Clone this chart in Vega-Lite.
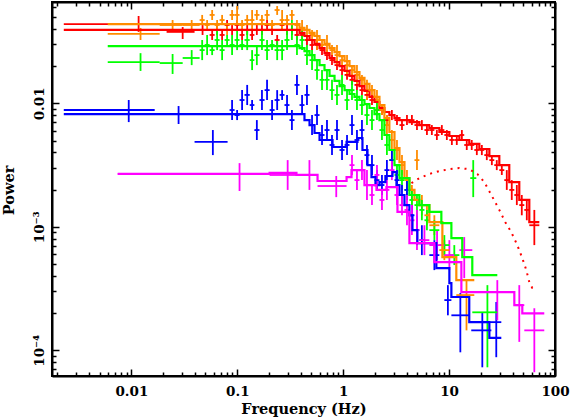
{
"$schema":"https://vega.github.io/schema/vega-lite/v6.json",
"width":503,"height":374,
"autosize":{"type":"none"},
"padding":{"left":52,"top":2,"right":15,"bottom":43},
"background":"white",
"config":{"view":{"stroke":"black","strokeWidth":2},
"axis":{"domainColor":"black","domainWidth":2,"tickColor":"black","tickWidth":1.5,"grid":false,"labelFont":"DejaVu Serif","labelFontWeight":"bold","labelFontSize":13.5,"labelColor":"black","titleFont":"DejaVu Serif","titleFontWeight":"bold","titleFontSize":14.5,"titleColor":"black","labelOverlap":false,"labelFlush":false}},
"datasets":{
"pts":[
{"s":"r","f":0.0117,"f0":0.0023,"f1":0.0215,"p":0.0439,"p0":0.0379,"p1":0.051},
{"s":"r","f":0.0305,"f0":0.0215,"f1":0.0395,"p":0.0379,"p0":0.0332,"p1":0.0415},
{"s":"r","f":0.047,"f0":0.0395,"f1":0.0548,"p":0.0393,"p0":0.0358,"p1":0.0431},
{"s":"r","f":0.0579,"f0":0.0548,"f1":0.0611,"p":0.0358,"p0":0.0326,"p1":0.0393},
{"s":"r","f":0.0645,"f0":0.0611,"f1":0.0681,"p":0.0393,"p0":0.0358,"p1":0.0431},
{"s":"r","f":0.0719,"f0":0.0681,"f1":0.0759,"p":0.0358,"p0":0.0326,"p1":0.0393},
{"s":"r","f":0.0801,"f0":0.0759,"f1":0.0846,"p":0.0431,"p0":0.0393,"p1":0.0473},
{"s":"r","f":0.0893,"f0":0.0846,"f1":0.0943,"p":0.0393,"p0":0.0358,"p1":0.0431},
{"s":"r","f":0.0996,"f0":0.0943,"f1":0.105,"p":0.0431,"p0":0.0393,"p1":0.0473},
{"s":"r","f":0.111,"f0":0.105,"f1":0.117,"p":0.0358,"p0":0.0326,"p1":0.0393},
{"s":"r","f":0.124,"f0":0.117,"f1":0.131,"p":0.0393,"p0":0.0358,"p1":0.0431},
{"s":"r","f":0.138,"f0":0.131,"f1":0.145,"p":0.0358,"p0":0.0326,"p1":0.0393},
{"s":"r","f":0.153,"f0":0.145,"f1":0.162,"p":0.0393,"p0":0.0358,"p1":0.0431},
{"s":"r","f":0.171,"f0":0.162,"f1":0.181,"p":0.0393,"p0":0.0358,"p1":0.0431},
{"s":"r","f":0.191,"f0":0.181,"f1":0.202,"p":0.0431,"p0":0.0393,"p1":0.0473},
{"s":"r","f":0.213,"f0":0.202,"f1":0.225,"p":0.0393,"p0":0.0358,"p1":0.0431},
{"s":"r","f":0.238,"f0":0.225,"f1":0.251,"p":0.0326,"p0":0.0297,"p1":0.0358},
{"s":"r","f":0.265,"f0":0.251,"f1":0.279,"p":0.0431,"p0":0.0393,"p1":0.0473},
{"s":"r","f":0.295,"f0":0.279,"f1":0.311,"p":0.0393,"p0":0.0358,"p1":0.0431},
{"s":"r","f":0.328,"f0":0.311,"f1":0.347,"p":0.0393,"p0":0.0358,"p1":0.0431},
{"s":"r","f":0.366,"f0":0.347,"f1":0.387,"p":0.0358,"p0":0.0326,"p1":0.0393},
{"s":"r","f":0.409,"f0":0.387,"f1":0.431,"p":0.0358,"p0":0.0326,"p1":0.0393},
{"s":"r","f":0.455,"f0":0.431,"f1":0.481,"p":0.0326,"p0":0.0297,"p1":0.0358},
{"s":"r","f":0.508,"f0":0.481,"f1":0.536,"p":0.0297,"p0":0.027,"p1":0.0326},
{"s":"r","f":0.566,"f0":0.536,"f1":0.598,"p":0.0297,"p0":0.027,"p1":0.0326},
{"s":"r","f":0.631,"f0":0.598,"f1":0.666,"p":0.027,"p0":0.0246,"p1":0.0297},
{"s":"r","f":0.703,"f0":0.666,"f1":0.743,"p":0.0246,"p0":0.0224,"p1":0.027},
{"s":"r","f":0.784,"f0":0.743,"f1":0.828,"p":0.0224,"p0":0.0204,"p1":0.0246},
{"s":"r","f":0.874,"f0":0.828,"f1":0.923,"p":0.0204,"p0":0.0186,"p1":0.0224},
{"s":"r","f":0.975,"f0":0.923,"f1":1.03,"p":0.0186,"p0":0.017,"p1":0.0204},
{"s":"r","f":1.087,"f0":1.03,"f1":1.147,"p":0.017,"p0":0.0155,"p1":0.0186},
{"s":"r","f":1.211,"f0":1.147,"f1":1.278,"p":0.0155,"p0":0.0141,"p1":0.017},
{"s":"r","f":1.349,"f0":1.278,"f1":1.425,"p":0.0141,"p0":0.0128,"p1":0.0155},
{"s":"r","f":1.504,"f0":1.425,"f1":1.588,"p":0.0128,"p0":0.0117,"p1":0.0141},
{"s":"r","f":1.677,"f0":1.588,"f1":1.771,"p":0.0117,"p0":0.01064,"p1":0.0128},
{"s":"r","f":1.87,"f0":1.771,"f1":1.974,"p":0.01064,"p0":0.00969,"p1":0.0117},
{"s":"r","f":2.084,"f0":1.974,"f1":2.2,"p":0.00883,"p0":0.00804,"p1":0.00969},
{"s":"r","f":2.323,"f0":2.2,"f1":2.45,"p":0.00883,"p0":0.00804,"p1":0.00969},
{"s":"r","f":2.587,"f0":2.45,"f1":2.73,"p":0.00732,"p0":0.00667,"p1":0.00804},
{"s":"r","f":2.882,"f0":2.73,"f1":3.05,"p":0.00804,"p0":0.00732,"p1":0.00883},
{"s":"r","f":3.22,"f0":3.05,"f1":3.4,"p":0.00732,"p0":0.00667,"p1":0.00804},
{"s":"r","f":3.59,"f0":3.4,"f1":3.79,"p":0.00667,"p0":0.00608,"p1":0.00732},
{"s":"r","f":4.001,"f0":3.79,"f1":4.22,"p":0.00732,"p0":0.00667,"p1":0.00804},
{"s":"r","f":4.455,"f0":4.22,"f1":4.71,"p":0.00732,"p0":0.00667,"p1":0.00804},
{"s":"r","f":4.973,"f0":4.71,"f1":5.24,"p":0.00667,"p0":0.00608,"p1":0.00732},
{"s":"r","f":5.532,"f0":5.24,"f1":5.85,"p":0.00667,"p0":0.00608,"p1":0.00732},
{"s":"r","f":6.176,"f0":5.85,"f1":6.51,"p":0.00608,"p0":0.00554,"p1":0.00667},
{"s":"r","f":6.873,"f0":6.51,"f1":7.26,"p":0.00608,"p0":0.00554,"p1":0.00667},
{"s":"r","f":7.665,"f0":7.26,"f1":8.09,"p":0.00554,"p0":0.00505,"p1":0.00608},
{"s":"r","f":8.541,"f0":8.09,"f1":9.02,"p":0.00608,"p0":0.00554,"p1":0.00667},
{"s":"r","f":9.523,"f0":9.02,"f1":10.06,"p":0.00554,"p0":0.00505,"p1":0.00608},
{"s":"r","f":10.62,"f0":10.06,"f1":11.2,"p":0.00505,"p0":0.0046,"p1":0.00554},
{"s":"r","f":11.82,"f0":11.2,"f1":12.5,"p":0.00505,"p0":0.0046,"p1":0.00554},
{"s":"r","f":13.2,"f0":12.5,"f1":13.9,"p":0.00554,"p0":0.00505,"p1":0.00608},
{"s":"r","f":14.68,"f0":13.9,"f1":15.5,"p":0.0046,"p0":0.00419,"p1":0.00505},
{"s":"r","f":16.36,"f0":15.5,"f1":17.3,"p":0.0046,"p0":0.00419,"p1":0.00505},
{"s":"r","f":18.27,"f0":17.3,"f1":19.3,"p":0.00419,"p0":0.00381,"p1":0.0046},
{"s":"r","f":20.38,"f0":19.3,"f1":21.5,"p":0.00419,"p0":0.00381,"p1":0.0046},
{"s":"r","f":22.7,"f0":21.5,"f1":24.0,"p":0.00381,"p0":0.00347,"p1":0.00419},
{"s":"r","f":25.34,"f0":24.0,"f1":26.7,"p":0.00347,"p0":0.00316,"p1":0.00381},
{"s":"r","f":28.19,"f0":26.7,"f1":29.8,"p":0.00316,"p0":0.00288,"p1":0.00347},
{"s":"r","f":31.46,"f0":29.8,"f1":33.2,"p":0.00288,"p0":0.00263,"p1":0.00316},
{"s":"r","f":35.05,"f0":33.2,"f1":37.0,"p":0.00239,"p0":0.00199,"p1":0.00288},
{"s":"r","f":39.06,"f0":37.0,"f1":41.3,"p":0.00199,"p0":0.00165,"p1":0.00239},
{"s":"r","f":43.6,"f0":41.3,"f1":46.0,"p":0.00181,"p0":0.0015,"p1":0.00218},
{"s":"r","f":48.57,"f0":46.0,"f1":51.3,"p":0.0015,"p0":0.00124,"p1":0.00181},
{"s":"r","f":54.16,"f0":51.3,"f1":57.2,"p":0.00137,"p0":0.00113,"p1":0.00165},
{"s":"r","f":63.8,"f0":57.2,"f1":71.1,"p":0.00103,"p0":0.000711,"p1":0.00137},
{"s":"o","f":0.0122,"f0":0.00598,"f1":0.0185,"p":0.0365,"p0":0.0326,"p1":0.0408},
{"s":"o","f":0.0245,"f0":0.0185,"f1":0.0305,"p":0.0431,"p0":0.0393,"p1":0.0473},
{"s":"o","f":0.0371,"f0":0.0305,"f1":0.0441,"p":0.0431,"p0":0.0393,"p1":0.0473},
{"s":"o","f":0.0466,"f0":0.0441,"f1":0.0492,"p":0.0473,"p0":0.0431,"p1":0.052},
{"s":"o","f":0.0519,"f0":0.0492,"f1":0.0548,"p":0.0431,"p0":0.0393,"p1":0.0473},
{"s":"o","f":0.0579,"f0":0.0548,"f1":0.0611,"p":0.052,"p0":0.0473,"p1":0.057},
{"s":"o","f":0.0645,"f0":0.0611,"f1":0.0681,"p":0.0431,"p0":0.0393,"p1":0.0473},
{"s":"o","f":0.0719,"f0":0.0681,"f1":0.0759,"p":0.0473,"p0":0.0431,"p1":0.052},
{"s":"o","f":0.0801,"f0":0.0759,"f1":0.0846,"p":0.0393,"p0":0.0358,"p1":0.0431},
{"s":"o","f":0.0893,"f0":0.0846,"f1":0.0943,"p":0.052,"p0":0.0473,"p1":0.057},
{"s":"o","f":0.0996,"f0":0.0943,"f1":0.105,"p":0.052,"p0":0.0431,"p1":0.0614},
{"s":"o","f":0.111,"f0":0.105,"f1":0.117,"p":0.0431,"p0":0.0393,"p1":0.0473},
{"s":"o","f":0.124,"f0":0.117,"f1":0.131,"p":0.0473,"p0":0.0431,"p1":0.052},
{"s":"o","f":0.138,"f0":0.131,"f1":0.145,"p":0.0473,"p0":0.0393,"p1":0.057},
{"s":"o","f":0.153,"f0":0.145,"f1":0.162,"p":0.052,"p0":0.0473,"p1":0.057},
{"s":"o","f":0.171,"f0":0.162,"f1":0.181,"p":0.0473,"p0":0.0431,"p1":0.052},
{"s":"o","f":0.191,"f0":0.181,"f1":0.202,"p":0.052,"p0":0.0473,"p1":0.057},
{"s":"o","f":0.213,"f0":0.202,"f1":0.225,"p":0.0431,"p0":0.0393,"p1":0.0473},
{"s":"o","f":0.238,"f0":0.225,"f1":0.251,"p":0.057,"p0":0.052,"p1":0.0614},
{"s":"o","f":0.265,"f0":0.251,"f1":0.279,"p":0.0473,"p0":0.0393,"p1":0.057},
{"s":"o","f":0.295,"f0":0.279,"f1":0.311,"p":0.0473,"p0":0.0431,"p1":0.052},
{"s":"o","f":0.328,"f0":0.311,"f1":0.347,"p":0.052,"p0":0.0473,"p1":0.057},
{"s":"o","f":0.366,"f0":0.347,"f1":0.387,"p":0.0431,"p0":0.0393,"p1":0.0473},
{"s":"o","f":0.409,"f0":0.387,"f1":0.431,"p":0.0393,"p0":0.0326,"p1":0.0473},
{"s":"o","f":0.455,"f0":0.431,"f1":0.481,"p":0.0393,"p0":0.0358,"p1":0.0431},
{"s":"o","f":0.508,"f0":0.481,"f1":0.536,"p":0.0358,"p0":0.0326,"p1":0.0393},
{"s":"o","f":0.566,"f0":0.536,"f1":0.598,"p":0.0326,"p0":0.027,"p1":0.0393},
{"s":"o","f":0.631,"f0":0.598,"f1":0.666,"p":0.0297,"p0":0.027,"p1":0.0326},
{"s":"o","f":0.703,"f0":0.666,"f1":0.743,"p":0.0297,"p0":0.0246,"p1":0.0358},
{"s":"o","f":0.784,"f0":0.743,"f1":0.828,"p":0.027,"p0":0.0246,"p1":0.0297},
{"s":"o","f":0.874,"f0":0.828,"f1":0.923,"p":0.0246,"p0":0.0204,"p1":0.0297},
{"s":"o","f":0.975,"f0":0.923,"f1":1.03,"p":0.0224,"p0":0.0204,"p1":0.0246},
{"s":"o","f":1.087,"f0":1.03,"f1":1.147,"p":0.0204,"p0":0.017,"p1":0.0246},
{"s":"o","f":1.211,"f0":1.147,"f1":1.278,"p":0.0186,"p0":0.017,"p1":0.0204},
{"s":"o","f":1.349,"f0":1.278,"f1":1.425,"p":0.017,"p0":0.0141,"p1":0.0204},
{"s":"o","f":1.504,"f0":1.425,"f1":1.588,"p":0.0155,"p0":0.0141,"p1":0.017},
{"s":"o","f":1.677,"f0":1.588,"f1":1.771,"p":0.0128,"p0":0.01064,"p1":0.0155},
{"s":"o","f":1.87,"f0":1.771,"f1":1.974,"p":0.0128,"p0":0.0117,"p1":0.0141},
{"s":"o","f":2.084,"f0":1.974,"f1":2.2,"p":0.01064,"p0":0.00883,"p1":0.0128},
{"s":"o","f":2.323,"f0":2.2,"f1":2.45,"p":0.00883,"p0":0.00804,"p1":0.00969},
{"s":"o","f":2.587,"f0":2.45,"f1":2.73,"p":0.00667,"p0":0.00554,"p1":0.00804},
{"s":"o","f":2.882,"f0":2.73,"f1":3.05,"p":0.00505,"p0":0.00419,"p1":0.00608},
{"s":"o","f":3.22,"f0":3.05,"f1":3.4,"p":0.00419,"p0":0.00347,"p1":0.00505},
{"s":"o","f":3.59,"f0":3.4,"f1":3.79,"p":0.00316,"p0":0.00263,"p1":0.00381},
{"s":"o","f":4.001,"f0":3.79,"f1":4.22,"p":0.00239,"p0":0.00199,"p1":0.00288},
{"s":"o","f":4.455,"f0":4.22,"f1":4.71,"p":0.00181,"p0":0.0015,"p1":0.00218},
{"s":"o","f":4.973,"f0":4.71,"f1":5.24,"p":0.00347,"p0":0.00288,"p1":0.00419},
{"s":"o","f":5.532,"f0":5.24,"f1":5.85,"p":0.0015,"p0":0.00124,"p1":0.00181},
{"s":"o","f":6.176,"f0":5.85,"f1":6.51,"p":0.00124,"p0":0.00103,"p1":0.0015},
{"s":"o","f":7.26,"f0":6.51,"f1":8.09,"p":0.00103,"p0":0.000857,"p1":0.00124},
{"s":"o","f":9.02,"f0":8.09,"f1":10.06,"p":0.000648,"p0":0.000537,"p1":0.00078},
{"s":"o","f":14.6,"f0":11.7,"f1":17.3,"p":0.00028,"p0":0.000145,"p1":0.00037},
{"s":"g","f":0.0122,"f0":0.00598,"f1":0.0185,"p":0.0216,"p0":0.0183,"p1":0.0255},
{"s":"g","f":0.0245,"f0":0.0185,"f1":0.0305,"p":0.0212,"p0":0.0173,"p1":0.0251},
{"s":"g","f":0.0371,"f0":0.0305,"f1":0.0441,"p":0.0233,"p0":0.0204,"p1":0.027},
{"s":"g","f":0.0466,"f0":0.0441,"f1":0.0492,"p":0.027,"p0":0.0224,"p1":0.0326},
{"s":"g","f":0.0519,"f0":0.0492,"f1":0.0548,"p":0.0297,"p0":0.0246,"p1":0.0358},
{"s":"g","f":0.0579,"f0":0.0548,"f1":0.0611,"p":0.027,"p0":0.0246,"p1":0.0297},
{"s":"g","f":0.0645,"f0":0.0611,"f1":0.0681,"p":0.0326,"p0":0.027,"p1":0.0393},
{"s":"g","f":0.0719,"f0":0.0681,"f1":0.0759,"p":0.027,"p0":0.0224,"p1":0.0326},
{"s":"g","f":0.0801,"f0":0.0759,"f1":0.0846,"p":0.0326,"p0":0.0297,"p1":0.0358},
{"s":"g","f":0.0893,"f0":0.0846,"f1":0.0943,"p":0.0297,"p0":0.0246,"p1":0.0358},
{"s":"g","f":0.0996,"f0":0.0943,"f1":0.105,"p":0.0326,"p0":0.027,"p1":0.0393},
{"s":"g","f":0.111,"f0":0.105,"f1":0.117,"p":0.0297,"p0":0.027,"p1":0.0326},
{"s":"g","f":0.124,"f0":0.117,"f1":0.131,"p":0.0326,"p0":0.027,"p1":0.0393},
{"s":"g","f":0.138,"f0":0.131,"f1":0.145,"p":0.0224,"p0":0.0186,"p1":0.027},
{"s":"g","f":0.153,"f0":0.145,"f1":0.162,"p":0.0246,"p0":0.0204,"p1":0.0297},
{"s":"g","f":0.171,"f0":0.162,"f1":0.181,"p":0.0326,"p0":0.027,"p1":0.0393},
{"s":"g","f":0.191,"f0":0.181,"f1":0.202,"p":0.027,"p0":0.0224,"p1":0.0326},
{"s":"g","f":0.213,"f0":0.202,"f1":0.225,"p":0.0297,"p0":0.027,"p1":0.0326},
{"s":"g","f":0.238,"f0":0.225,"f1":0.251,"p":0.027,"p0":0.0224,"p1":0.0326},
{"s":"g","f":0.265,"f0":0.251,"f1":0.279,"p":0.027,"p0":0.0224,"p1":0.0326},
{"s":"g","f":0.295,"f0":0.279,"f1":0.311,"p":0.0326,"p0":0.027,"p1":0.0393},
{"s":"g","f":0.328,"f0":0.311,"f1":0.347,"p":0.0393,"p0":0.0326,"p1":0.0473},
{"s":"g","f":0.366,"f0":0.347,"f1":0.387,"p":0.0297,"p0":0.0246,"p1":0.0358},
{"s":"g","f":0.409,"f0":0.387,"f1":0.431,"p":0.0326,"p0":0.027,"p1":0.0393},
{"s":"g","f":0.455,"f0":0.431,"f1":0.481,"p":0.0246,"p0":0.0204,"p1":0.0297},
{"s":"g","f":0.508,"f0":0.481,"f1":0.536,"p":0.0224,"p0":0.0186,"p1":0.027},
{"s":"g","f":0.566,"f0":0.536,"f1":0.598,"p":0.0186,"p0":0.0155,"p1":0.0224},
{"s":"g","f":0.631,"f0":0.598,"f1":0.666,"p":0.0155,"p0":0.0128,"p1":0.0186},
{"s":"g","f":0.703,"f0":0.666,"f1":0.743,"p":0.0155,"p0":0.0128,"p1":0.0186},
{"s":"g","f":0.784,"f0":0.743,"f1":0.828,"p":0.0128,"p0":0.01064,"p1":0.0155},
{"s":"g","f":0.874,"f0":0.828,"f1":0.923,"p":0.0117,"p0":0.00969,"p1":0.0141},
{"s":"g","f":0.975,"f0":0.923,"f1":1.03,"p":0.0141,"p0":0.0117,"p1":0.017},
{"s":"g","f":1.087,"f0":1.03,"f1":1.147,"p":0.01064,"p0":0.00883,"p1":0.0128},
{"s":"g","f":1.211,"f0":1.147,"f1":1.278,"p":0.0128,"p0":0.01064,"p1":0.0155},
{"s":"g","f":1.349,"f0":1.278,"f1":1.425,"p":0.01064,"p0":0.00883,"p1":0.0128},
{"s":"g","f":1.504,"f0":1.425,"f1":1.588,"p":0.00969,"p0":0.00804,"p1":0.0117},
{"s":"g","f":1.677,"f0":1.588,"f1":1.771,"p":0.00804,"p0":0.00667,"p1":0.00969},
{"s":"g","f":1.87,"f0":1.771,"f1":1.974,"p":0.00732,"p0":0.00608,"p1":0.00883},
{"s":"g","f":2.084,"f0":1.974,"f1":2.2,"p":0.00883,"p0":0.00732,"p1":0.01064},
{"s":"g","f":2.323,"f0":2.2,"f1":2.45,"p":0.00608,"p0":0.00505,"p1":0.00732},
{"s":"g","f":2.587,"f0":2.45,"f1":2.73,"p":0.0046,"p0":0.00381,"p1":0.00554},
{"s":"g","f":2.882,"f0":2.73,"f1":3.05,"p":0.00347,"p0":0.00288,"p1":0.00419},
{"s":"g","f":3.22,"f0":3.05,"f1":3.4,"p":0.00263,"p0":0.00218,"p1":0.00316},
{"s":"g","f":3.59,"f0":3.4,"f1":3.79,"p":0.00239,"p0":0.00199,"p1":0.00288},
{"s":"g","f":4.001,"f0":3.79,"f1":4.22,"p":0.00199,"p0":0.00165,"p1":0.00239},
{"s":"g","f":4.455,"f0":4.22,"f1":4.71,"p":0.00165,"p0":0.00137,"p1":0.00199},
{"s":"g","f":4.973,"f0":4.71,"f1":5.24,"p":0.0015,"p0":0.00124,"p1":0.00181},
{"s":"g","f":5.532,"f0":5.24,"f1":5.85,"p":0.00137,"p0":0.00113,"p1":0.00165},
{"s":"g","f":6.176,"f0":5.85,"f1":6.51,"p":0.00113,"p0":0.00094,"p1":0.00137},
{"s":"g","f":7.26,"f0":6.51,"f1":8.09,"p":0.00094,"p0":0.00078,"p1":0.00113},
{"s":"g","f":9.02,"f0":8.09,"f1":10.06,"p":0.000711,"p0":0.00059,"p1":0.000857},
{"s":"g","f":11.2,"f0":10.06,"f1":12.5,"p":0.00059,"p0":0.00049,"p1":0.000711},
{"s":"g","f":16.9,"f0":15.84,"f1":18.07,"p":0.00248,"p0":0.00174,"p1":0.00347},
{"s":"g","f":23.0,"f0":16.56,"f1":28.53,"p":0.000203,"p0":0.0000728,"p1":0.000337},
{"s":"b","f":0.00944,"f0":0.0023,"f1":0.0166,"p":0.00883,"p0":0.00705,"p1":0.01064},
{"s":"b","f":0.0279,"f0":0.0215,"f1":0.0395,"p":0.00819,"p0":0.0068,"p1":0.00951},
{"s":"b","f":0.0588,"f0":0.0395,"f1":0.081,"p":0.00487,"p0":0.00381,"p1":0.00608},
{"s":"b","f":0.0893,"f0":0.0846,"f1":0.0943,"p":0.00883,"p0":0.00732,"p1":0.01064},
{"s":"b","f":0.0996,"f0":0.0943,"f1":0.105,"p":0.00804,"p0":0.00732,"p1":0.00883},
{"s":"b","f":0.111,"f0":0.105,"f1":0.117,"p":0.01064,"p0":0.00883,"p1":0.0128},
{"s":"b","f":0.124,"f0":0.117,"f1":0.131,"p":0.0117,"p0":0.00969,"p1":0.0141},
{"s":"b","f":0.138,"f0":0.131,"f1":0.145,"p":0.00969,"p0":0.00883,"p1":0.01064},
{"s":"b","f":0.153,"f0":0.145,"f1":0.162,"p":0.00608,"p0":0.00505,"p1":0.00732},
{"s":"b","f":0.171,"f0":0.162,"f1":0.181,"p":0.01064,"p0":0.00883,"p1":0.0128},
{"s":"b","f":0.191,"f0":0.181,"f1":0.202,"p":0.0128,"p0":0.01064,"p1":0.0155},
{"s":"b","f":0.213,"f0":0.202,"f1":0.225,"p":0.00883,"p0":0.00732,"p1":0.01064},
{"s":"b","f":0.238,"f0":0.225,"f1":0.251,"p":0.01064,"p0":0.00883,"p1":0.0128},
{"s":"b","f":0.265,"f0":0.251,"f1":0.279,"p":0.0117,"p0":0.01064,"p1":0.0128},
{"s":"b","f":0.295,"f0":0.279,"f1":0.311,"p":0.00969,"p0":0.00804,"p1":0.0117},
{"s":"b","f":0.328,"f0":0.311,"f1":0.347,"p":0.00732,"p0":0.00608,"p1":0.00883},
{"s":"b","f":0.366,"f0":0.347,"f1":0.387,"p":0.0141,"p0":0.0117,"p1":0.017},
{"s":"b","f":0.409,"f0":0.387,"f1":0.431,"p":0.00969,"p0":0.00804,"p1":0.0117},
{"s":"b","f":0.455,"f0":0.431,"f1":0.481,"p":0.0117,"p0":0.00969,"p1":0.0141},
{"s":"b","f":0.508,"f0":0.481,"f1":0.536,"p":0.00667,"p0":0.00554,"p1":0.00804},
{"s":"b","f":0.566,"f0":0.536,"f1":0.598,"p":0.00804,"p0":0.00667,"p1":0.00969},
{"s":"b","f":0.631,"f0":0.598,"f1":0.666,"p":0.00554,"p0":0.0046,"p1":0.00667},
{"s":"b","f":0.703,"f0":0.666,"f1":0.743,"p":0.00608,"p0":0.00505,"p1":0.00732},
{"s":"b","f":0.784,"f0":0.743,"f1":0.828,"p":0.0046,"p0":0.00381,"p1":0.00554},
{"s":"b","f":0.874,"f0":0.828,"f1":0.923,"p":0.00608,"p0":0.00505,"p1":0.00732},
{"s":"b","f":0.975,"f0":0.923,"f1":1.03,"p":0.00419,"p0":0.00347,"p1":0.00505},
{"s":"b","f":1.087,"f0":1.03,"f1":1.147,"p":0.0046,"p0":0.00381,"p1":0.00554},
{"s":"b","f":1.211,"f0":1.147,"f1":1.278,"p":0.00667,"p0":0.00554,"p1":0.00804},
{"s":"b","f":1.349,"f0":1.278,"f1":1.425,"p":0.00505,"p0":0.00419,"p1":0.00608},
{"s":"b","f":1.504,"f0":1.425,"f1":1.588,"p":0.00608,"p0":0.00505,"p1":0.00732},
{"s":"b","f":1.677,"f0":1.588,"f1":1.771,"p":0.00381,"p0":0.00316,"p1":0.0046},
{"s":"b","f":1.87,"f0":1.771,"f1":1.974,"p":0.00316,"p0":0.00263,"p1":0.00381},
{"s":"b","f":2.084,"f0":1.974,"f1":2.2,"p":0.00239,"p0":0.00199,"p1":0.00288},
{"s":"b","f":2.323,"f0":2.2,"f1":2.45,"p":0.00218,"p0":0.00181,"p1":0.00263},
{"s":"b","f":2.587,"f0":2.45,"f1":2.73,"p":0.00288,"p0":0.00239,"p1":0.00347},
{"s":"b","f":2.882,"f0":2.73,"f1":3.05,"p":0.00347,"p0":0.00288,"p1":0.00419},
{"s":"b","f":3.22,"f0":3.05,"f1":3.4,"p":0.00239,"p0":0.00199,"p1":0.00288},
{"s":"b","f":3.59,"f0":3.4,"f1":3.79,"p":0.00181,"p0":0.0015,"p1":0.00218},
{"s":"b","f":4.001,"f0":3.79,"f1":4.22,"p":0.00199,"p0":0.00165,"p1":0.00239},
{"s":"b","f":4.455,"f0":4.22,"f1":4.71,"p":0.00124,"p0":0.00103,"p1":0.0015},
{"s":"b","f":4.973,"f0":4.71,"f1":5.24,"p":0.00094,"p0":0.00071,"p1":0.00124},
{"s":"b","f":5.532,"f0":5.24,"f1":5.85,"p":0.00078,"p0":0.00059,"p1":0.00103},
{"s":"b","f":7.26,"f0":6.51,"f1":8.09,"p":0.00059,"p0":0.000446,"p1":0.00078},
{"s":"b","f":9.74,"f0":9.02,"f1":10.51,"p":0.000255,"p0":0.000192,"p1":0.000337},
{"s":"b","f":12.77,"f0":10.51,"f1":15.5,"p":0.000192,"p0":0.0000963,"p1":0.000291},
{"s":"b","f":20.59,"f0":16.19,"f1":25.07,"p":0.000145,"p0":0.0000728,"p1":0.000203},
{"s":"b","f":27.89,"f0":20.59,"f1":31.12,"p":0.000169,"p0":0.0000879,"p1":0.000246},
{"s":"m","f":0.105,"f0":0.00743,"f1":0.202,"p":0.00268,"p0":0.00195,"p1":0.00328},
{"s":"m","f":0.299,"f0":0.202,"f1":0.387,"p":0.00263,"p0":0.00199,"p1":0.00347},
{"s":"m","f":0.48,"f0":0.387,"f1":0.5726,"p":0.00263,"p0":0.00199,"p1":0.00347},
{"s":"m","f":0.86,"f0":0.5726,"f1":1.076,"p":0.00214,"p0":0.00174,"p1":0.00258},
{"s":"m","f":1.211,"f0":1.147,"f1":1.278,"p":0.00316,"p0":0.00263,"p1":0.00381},
{"s":"m","f":1.349,"f0":1.278,"f1":1.425,"p":0.00239,"p0":0.00199,"p1":0.00288},
{"s":"m","f":1.504,"f0":1.425,"f1":1.588,"p":0.00288,"p0":0.00239,"p1":0.00347},
{"s":"m","f":1.677,"f0":1.588,"f1":1.771,"p":0.00218,"p0":0.00165,"p1":0.00288},
{"s":"m","f":1.87,"f0":1.771,"f1":1.974,"p":0.00181,"p0":0.0015,"p1":0.00218},
{"s":"m","f":2.084,"f0":1.974,"f1":2.2,"p":0.00263,"p0":0.00218,"p1":0.00316},
{"s":"m","f":2.323,"f0":2.2,"f1":2.45,"p":0.00165,"p0":0.00137,"p1":0.00199},
{"s":"m","f":2.587,"f0":2.45,"f1":2.73,"p":0.00199,"p0":0.00165,"p1":0.00239},
{"s":"m","f":2.882,"f0":2.73,"f1":3.05,"p":0.00288,"p0":0.00239,"p1":0.00347},
{"s":"m","f":3.22,"f0":3.05,"f1":3.4,"p":0.00181,"p0":0.0015,"p1":0.00218},
{"s":"m","f":3.59,"f0":3.4,"f1":3.79,"p":0.0015,"p0":0.00124,"p1":0.00181},
{"s":"m","f":4.001,"f0":3.79,"f1":4.22,"p":0.00137,"p0":0.00103,"p1":0.00181},
{"s":"m","f":4.455,"f0":4.22,"f1":4.71,"p":0.00113,"p0":0.000857,"p1":0.0015},
{"s":"m","f":4.973,"f0":4.71,"f1":5.24,"p":0.00094,"p0":0.00065,"p1":0.00137},
{"s":"m","f":5.85,"f0":5.24,"f1":6.51,"p":0.00078,"p0":0.00059,"p1":0.00103},
{"s":"m","f":7.7,"f0":6.51,"f1":9.02,"p":0.000711,"p0":0.000537,"p1":0.00094},
{"s":"m","f":10.06,"f0":9.02,"f1":11.2,"p":0.00059,"p0":0.000446,"p1":0.00078},
{"s":"m","f":13.9,"f0":12.5,"f1":16.56,"p":0.000648,"p0":0.000384,"p1":0.000826},
{"s":"m","f":28.53,"f0":16.56,"f1":41.3,"p":0.000296,"p0":0.000175,"p1":0.00037},
{"s":"m","f":46.0,"f0":41.3,"f1":51.3,"p":0.000232,"p0":0.000117,"p1":0.000337},
{"s":"m","f":63.8,"f0":51.3,"f1":79.2,"p":0.000145,"p0":0.0000664,"p1":0.000219}
],
"mod":[
{"s":"r","f":0.0023,"p":0.0393},{"s":"r","f":0.387,"p":0.0372},{"s":"r","f":0.431,"p":0.0351},{"s":"r","f":0.481,"p":0.0326},{"s":"r","f":0.536,"p":0.0303},{"s":"r","f":0.598,"p":0.028},{"s":"r","f":0.666,"p":0.0255},{"s":"r","f":0.743,"p":0.0233},{"s":"r","f":0.828,"p":0.0216},{"s":"r","f":0.923,"p":0.02},{"s":"r","f":1.03,"p":0.0183},{"s":"r","f":1.147,"p":0.0167},{"s":"r","f":1.278,"p":0.0152},{"s":"r","f":1.425,"p":0.0138},{"s":"r","f":1.588,"p":0.0126},{"s":"r","f":1.771,"p":0.0113},{"s":"r","f":1.974,"p":0.01025},{"s":"r","f":2.2,"p":0.00917},{"s":"r","f":2.45,"p":0.00851},{"s":"r","f":2.73,"p":0.00804},{"s":"r","f":3.05,"p":0.0076},{"s":"r","f":3.4,"p":0.00732},{"s":"r","f":4.22,"p":0.00705},{"s":"r","f":5.24,"p":0.00667},{"s":"r","f":6.51,"p":0.00631},{"s":"r","f":8.09,"p":0.00586},{"s":"r","f":10.06,"p":0.00544},{"s":"r","f":12.5,"p":0.00505},{"s":"r","f":15.5,"p":0.00469},{"s":"r","f":19.3,"p":0.00427},{"s":"r","f":24.0,"p":0.00374},{"s":"r","f":29.8,"p":0.00316},{"s":"r","f":37.0,"p":0.0023},{"s":"r","f":46.0,"p":0.00165},{"s":"r","f":57.2,"p":0.00109},{"s":"r","f":71.1,"p":0.00109},
{"s":"o","f":0.00598,"p":0.0439},{"s":"o","f":0.387,"p":0.0408},{"s":"o","f":0.431,"p":0.0393},{"s":"o","f":0.481,"p":0.0372},{"s":"o","f":0.536,"p":0.0351},{"s":"o","f":0.598,"p":0.0326},{"s":"o","f":0.666,"p":0.0303},{"s":"o","f":0.743,"p":0.028},{"s":"o","f":0.828,"p":0.026},{"s":"o","f":0.923,"p":0.0241},{"s":"o","f":1.03,"p":0.022},{"s":"o","f":1.147,"p":0.02},{"s":"o","f":1.278,"p":0.0179},{"s":"o","f":1.425,"p":0.0161},{"s":"o","f":1.588,"p":0.0144},{"s":"o","f":1.771,"p":0.0128},{"s":"o","f":1.974,"p":0.0113},{"s":"o","f":2.2,"p":0.00969},{"s":"o","f":2.45,"p":0.0076},{"s":"o","f":2.73,"p":0.00586},{"s":"o","f":3.05,"p":0.00435},{"s":"o","f":3.4,"p":0.00334},{"s":"o","f":3.79,"p":0.00248},{"s":"o","f":4.22,"p":0.00199},{"s":"o","f":4.71,"p":0.00165},{"s":"o","f":5.24,"p":0.0015},{"s":"o","f":6.51,"p":0.00109},{"s":"o","f":8.64,"p":0.000568},{"s":"o","f":11.7,"p":0.00037},{"s":"o","f":17.3,"p":0.00037},
{"s":"g","f":0.00598,"p":0.0291},{"s":"g","f":0.387,"p":0.028},{"s":"g","f":0.431,"p":0.0265},{"s":"g","f":0.481,"p":0.0246},{"s":"g","f":0.536,"p":0.0224},{"s":"g","f":0.598,"p":0.0204},{"s":"g","f":0.666,"p":0.0186},{"s":"g","f":0.743,"p":0.0167},{"s":"g","f":0.828,"p":0.0152},{"s":"g","f":0.923,"p":0.0138},{"s":"g","f":1.03,"p":0.0128},{"s":"g","f":1.147,"p":0.0119},{"s":"g","f":1.278,"p":0.0113},{"s":"g","f":1.425,"p":0.01064},{"s":"g","f":1.588,"p":0.00987},{"s":"g","f":1.771,"p":0.00917},{"s":"g","f":1.974,"p":0.00819},{"s":"g","f":2.2,"p":0.00732},{"s":"g","f":2.45,"p":0.00554},{"s":"g","f":2.73,"p":0.00419},{"s":"g","f":3.05,"p":0.00316},{"s":"g","f":3.4,"p":0.00248},{"s":"g","f":4.22,"p":0.00181},{"s":"g","f":5.24,"p":0.0015},{"s":"g","f":6.51,"p":0.00132},{"s":"g","f":8.45,"p":0.00107},{"s":"g","f":10.51,"p":0.00081},{"s":"g","f":13.31,"p":0.000568},{"s":"g","f":16.56,"p":0.000406},{"s":"g","f":28.53,"p":0.000406},
{"s":"b","f":0.0023,"p":0.00819},{"s":"b","f":0.431,"p":0.00732},{"s":"b","f":0.481,"p":0.00667},{"s":"b","f":0.536,"p":0.00575},{"s":"b","f":0.598,"p":0.00505},{"s":"b","f":0.793,"p":0.00443},{"s":"b","f":1.076,"p":0.00487},{"s":"b","f":1.364,"p":0.00524},{"s":"b","f":1.52,"p":0.00419},{"s":"b","f":1.696,"p":0.00316},{"s":"b","f":1.85,"p":0.00253},{"s":"b","f":2.017,"p":0.00218},{"s":"b","f":2.2,"p":0.0023},{"s":"b","f":2.504,"p":0.00258},{"s":"b","f":2.92,"p":0.00277},{"s":"b","f":3.185,"p":0.00218},{"s":"b","f":3.4,"p":0.00181},{"s":"b","f":3.79,"p":0.0015},{"s":"b","f":4.22,"p":0.00124},{"s":"b","f":4.51,"p":0.00094},{"s":"b","f":5.02,"p":0.000738},{"s":"b","f":7.58,"p":0.000463},{"s":"b","f":10.06,"p":0.00035},{"s":"b","f":10.51,"p":0.00027},{"s":"b","f":15.5,"p":0.000169},{"s":"b","f":24.0,"p":0.000126},{"s":"b","f":31.12,"p":0.000126},
{"s":"m","f":0.00743,"p":0.00268},{"s":"m","f":0.202,"p":0.00273},{"s":"m","f":0.362,"p":0.00263},{"s":"m","f":0.5726,"p":0.00235},{"s":"m","f":1.076,"p":0.00253},{"s":"m","f":1.198,"p":0.00288},{"s":"m","f":1.588,"p":0.00218},{"s":"m","f":2.062,"p":0.00199},{"s":"m","f":2.559,"p":0.0021},{"s":"m","f":3.255,"p":0.00132},{"s":"m","f":4.22,"p":0.000738},{"s":"m","f":7.26,"p":0.000517},{"s":"m","f":13.06,"p":0.000296},{"s":"m","f":41.3,"p":0.000232},{"s":"m","f":49.12,"p":0.000199},{"s":"m","f":79.2,"p":0.000199}
],
"dot":[
{"f":4.41,"p":0.00226},{"f":5.24,"p":0.00248},{"f":6.51,"p":0.00268},{"f":8.09,"p":0.00283},{"f":10.06,"p":0.00293},{"f":12.5,"p":0.00299},{"f":15.5,"p":0.00293},{"f":18.48,"p":0.00268},{"f":21.5,"p":0.0023},{"f":25.07,"p":0.00181},{"f":29.8,"p":0.00137},{"f":33.93,"p":0.00109},{"f":38.64,"p":0.000906},{"f":44.04,"p":0.000711},{"f":49.12,"p":0.000557},{"f":53.58,"p":0.000446},{"f":57.2,"p":0.000356},{"f":61.09,"p":0.000319},{"f":68.08,"p":0.000319}
]
},
"layer":[
{"data":{"name":"pts"},"mark":{"type":"rule","strokeWidth":1.8,"clip":true},
"encoding":{
"x":{"field":"f","type":"quantitative","scale":{"type":"log","domain":[0.00178,100],"nice":false},
"axis":{"orient":"bottom","title":"Frequency (Hz)","values":[0.002,0.003,0.004,0.005,0.006,0.007,0.008,0.009,0.01,0.02,0.03,0.04,0.05,0.06,0.07,0.08,0.09,0.1,0.2,0.3,0.4,0.5,0.6,0.7,0.8,0.9,1,2,3,4,5,6,7,8,9,10,20,30,40,50,60,70,80,90,100],
"labelExpr":"datum.value == 0.01 ? '0.01' : datum.value == 0.1 ? '0.1' : datum.value == 1 ? '1' : datum.value == 10 ? '10' : datum.value == 100 ? '100' : ''",
"tickSize":{"condition":{"test":"datum.value == 0.01 || datum.value == 0.1 || datum.value == 1 || datum.value == 10 || datum.value == 100","value":-7},"value":-4},
"labelPadding":26,"labelBaseline":"alphabetic","labelAlign":"center","titleY":26,"titleBaseline":"top"}},
"y":{"field":"p0","type":"quantitative","scale":{"type":"log","domain":[0.0000619,0.0662],"nice":false},
"axis":{"orient":"left","title":"Power","values":[0.00007,0.00008,0.00009,0.0001,0.0002,0.0003,0.0004,0.0005,0.0006,0.0007,0.0008,0.0009,0.001,0.002,0.003,0.004,0.005,0.006,0.007,0.008,0.009,0.01,0.02,0.03,0.04,0.05,0.06],
"labelExpr":"datum.value == 0.01 ? '0.01' : datum.value == 0.001 ? '10⁻³' : datum.value == 0.0001 ? '10⁻⁴' : ''",
"tickSize":{"condition":{"test":"datum.value == 0.01 || datum.value == 0.001 || datum.value == 0.0001","value":-7},"value":-4},
"labelAngle":270,"labelAlign":"center","labelBaseline":"alphabetic","labelPadding":16,
"titleAngle":270,"titleX":-39,"titleY":188,"titleAlign":"center","titleBaseline":"alphabetic"}},
"y2":{"field":"p1"},
"color":{"field":"s","type":"nominal","scale":{"domain":["r","o","g","b","m"],"range":["#ff0000","#ff8c00","#00ff00","#0000ff","#ff00ff"]},"legend":null}}},
{"data":{"name":"pts"},"mark":{"type":"rule","strokeWidth":1.8,"clip":true},
"encoding":{
"x":{"field":"f0","type":"quantitative","scale":{"type":"log","domain":[0.00178,100],"nice":false},"axis":null},
"x2":{"field":"f1"},
"y":{"field":"p","type":"quantitative","scale":{"type":"log","domain":[0.0000619,0.0662],"nice":false},"axis":null},
"color":{"field":"s","type":"nominal","legend":null}}},
{"data":{"name":"mod"},"mark":{"type":"line","interpolate":"step-after","strokeWidth":2.2,"clip":true},
"encoding":{
"x":{"field":"f","type":"quantitative","scale":{"type":"log","domain":[0.00178,100],"nice":false},"axis":null},
"y":{"field":"p","type":"quantitative","scale":{"type":"log","domain":[0.0000619,0.0662],"nice":false},"axis":null},
"color":{"field":"s","type":"nominal","legend":null}}},
{"data":{"name":"dot"},"mark":{"type":"line","strokeWidth":2,"strokeDash":[2,5],"color":"#ff0000","clip":true},
"encoding":{
"x":{"field":"f","type":"quantitative","scale":{"type":"log","domain":[0.00178,100],"nice":false},"axis":null},
"y":{"field":"p","type":"quantitative","scale":{"type":"log","domain":[0.0000619,0.0662],"nice":false},"axis":null}}},
{"data":{"name":"dot"},"mark":{"type":"point","opacity":0},
"encoding":{
"x":{"field":"f","type":"quantitative","scale":{"type":"log","domain":[0.00178,100],"nice":false},
"axis":{"orient":"top","title":null,"labels":false,"values":[0.002,0.003,0.004,0.005,0.006,0.007,0.008,0.009,0.01,0.02,0.03,0.04,0.05,0.06,0.07,0.08,0.09,0.1,0.2,0.3,0.4,0.5,0.6,0.7,0.8,0.9,1,2,3,4,5,6,7,8,9,10,20,30,40,50,60,70,80,90,100],
"tickSize":{"condition":{"test":"datum.value == 0.01 || datum.value == 0.1 || datum.value == 1 || datum.value == 10 || datum.value == 100","value":-7},"value":-4}}},
"y":{"field":"p","type":"quantitative","scale":{"type":"log","domain":[0.0000619,0.0662],"nice":false},
"axis":{"orient":"right","title":null,"labels":false,"values":[0.00007,0.00008,0.00009,0.0001,0.0002,0.0003,0.0004,0.0005,0.0006,0.0007,0.0008,0.0009,0.001,0.002,0.003,0.004,0.005,0.006,0.007,0.008,0.009,0.01,0.02,0.03,0.04,0.05,0.06],
"tickSize":{"condition":{"test":"datum.value == 0.01 || datum.value == 0.001 || datum.value == 0.0001","value":-7},"value":-4}}}}}
],
"resolve":{"axis":{"x":"independent","y":"independent"}}
}
